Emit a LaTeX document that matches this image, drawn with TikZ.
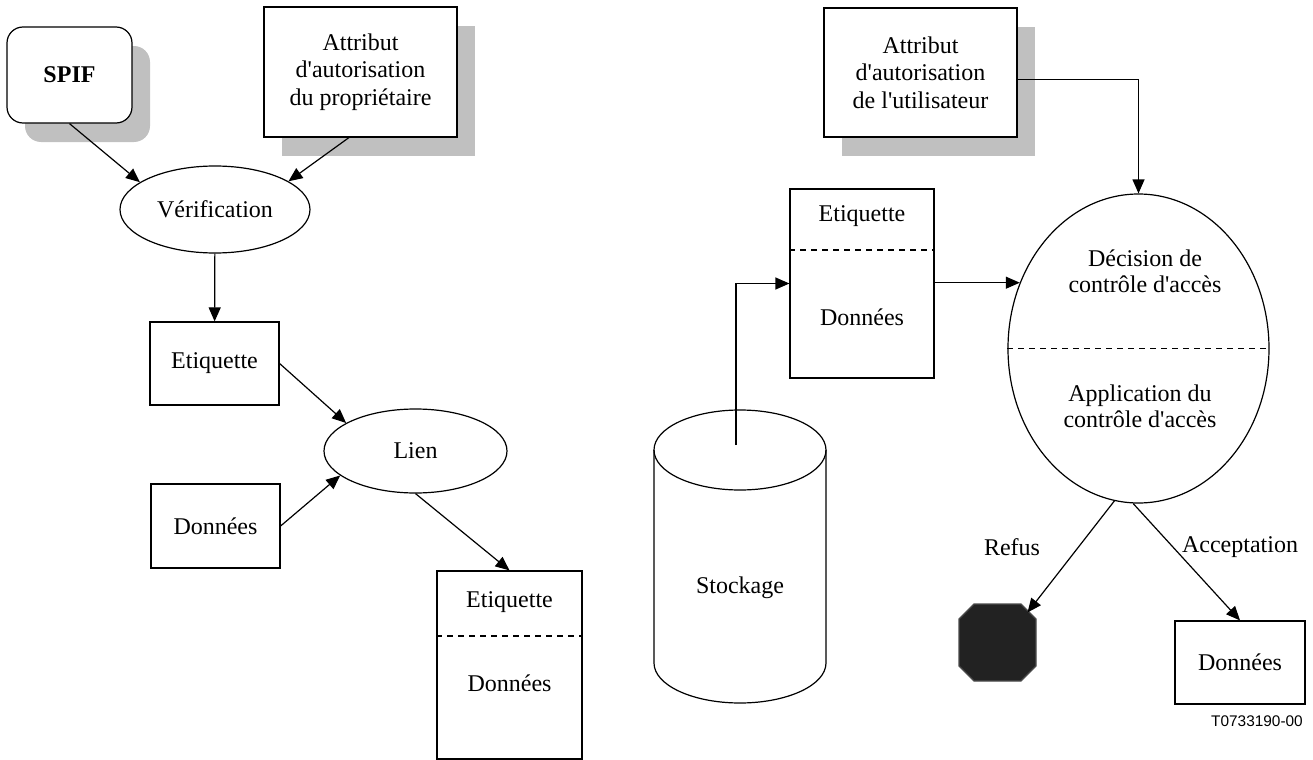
\documentclass[tikz,border=0pt]{standalone}
\usepackage{fontspec}
\setmainfont{Liberation Serif}
\newfontfamily\codefont{Liberation Sans}
\usetikzlibrary{arrows.meta}
\usetikzlibrary{positioning}
\usetikzlibrary{calc}
\usetikzlibrary{shapes.geometric}
\usetikzlibrary{shadows}
\definecolor{shadowgray}{RGB}{192, 192, 192}
\definecolor{refusfill}{RGB}{34, 34, 34}
\newcommand{\apos}{\textquotesingle}

\tikzset{
  trait/.style={line width=0.6pt},
  boite/.style={draw, trait, fill=white, inner sep=0pt, align=center, font=\fontsize{12}{13.8}\selectfont},
  ombre/.style={drop shadow={shadow xshift=9pt, shadow yshift=-9.5pt, fill=shadowgray, opacity=1}},
  bulle/.style={boite, ellipse},
  texte/.style={inner sep=0pt, align=center, font=\fontsize{12}{13.2}\selectfont},
  tirets/.style={trait, dash pattern=on 3pt off 2.5pt},
  fleche/.style={trait, -{Triangle[length=7pt, width=6pt]}},
}

\begin{document}
\begin{tikzpicture}[x=0.5pt, y=-0.5pt]
\useasboundingbox (0,0) rectangle (1313,760);

% etiquetage
\node[boite, ombre, rounded corners=8pt, minimum width=62.5pt, minimum height=48pt,
      font=\bfseries\fontsize{12}{13.8}\selectfont] (spif) at (69.5,75) {SPIF};
\node[boite, ombre, minimum width=96.5pt, minimum height=65pt] (proprio) at (360.5,72)
      {Attribut\\d\apos autorisation\\du propriétaire};
\node[bulle, minimum width=95pt, minimum height=43.5pt] (verif) at (215,209.5) {Vérification};
\node[boite, minimum width=64.5pt, minimum height=41.5pt] (etiqL) at (214.5,363.5) {Etiquette};
\node[boite, minimum width=64.5pt, minimum height=42pt] (donL) at (215.5,526) {Données};
\node[bulle, minimum width=91.5pt, minimum height=42pt] (lien) at (415.5,451) {Lien};
\node[boite, minimum width=72.5pt, minimum height=94pt] (lienOut) at (509.5,665) {};
\node[texte] (lienOutE) at (509.5,602) {Etiquette};
\node[texte] (lienOutD) at (509.5,683) {Données};
\draw[tirets] (lienOut.west |- 0,636) -- (lienOut.east |- 0,636);

\draw[fleche] (spif.south) -- (verif.160);
\draw[fleche] (proprio.260) -- (verif.21);
\draw[fleche] (verif) -- (etiqL);
\draw[fleche] (etiqL.east) -- (lien.158);
\draw[fleche] (donL.east) -- (lien.198);
\draw[fleche] (lien.south) -- (lienOut.north);

% controle d'acces
\node[boite, ombre, minimum width=96.5pt, minimum height=64.5pt] (user) at (920.5,72.5)
      {Attribut\\d\apos autorisation\\de l\apos utilisateur};
\node[boite, minimum width=72pt, minimum height=94.5pt] (etiqR) at (862,283.5) {};
\node[texte] (etiqRE) at (862,216) {Etiquette};
\node[texte] (etiqRD) at (862,317) {Données};
\draw[tirets] (etiqR.west |- 0,250) -- (etiqR.east |- 0,250);

\draw[trait] (740,450) ellipse [x radius=43pt, y radius=20pt];
\draw[trait] (654,450) -- (654,663) arc[start angle=180, end angle=360, x radius=43pt, y radius=20pt] -- (826,450);
\node[texte] (stock) at (740,588) {Stockage};
\coordinate (stockHaut) at (736,445);

\node[bulle, minimum width=130.5pt, minimum height=154.5pt] (acces) at (1138.5,348.5) {};
\node[texte] (decision) at (1145,271) {Décision de\\contrôle d\apos accès};
\node[texte] (application) at (1140,406) {Application du\\contrôle d\apos accès};
\draw[tirets] (acces.west) -- (acces.east);

% octogone de refus
\coordinate (refus) at (997.5,642.5);
\coordinate (refusCoin) at ($(refus)+(30,-30)$);
\filldraw[trait, draw=black!70, fill=refusfill]
  ($(refus)+(-23.5,-38.5)$) -- ($(refus)+(23.5,-38.5)$) -- ($(refus)+(38.5,-23.5)$)
  -- ($(refus)+(38.5,23.5)$) -- ($(refus)+(23.5,38.5)$) -- ($(refus)+(-23.5,38.5)$)
  -- ($(refus)+(-38.5,23.5)$) -- ($(refus)+(-38.5,-23.5)$) -- cycle;
\node[boite, minimum width=65pt, minimum height=41.5pt] (donR) at (1240,662.5) {Données};
\node[texte] (refusTxt) at (1012,547) {Refus};
\node[texte] (acceptTxt) at (1240,547) {Acceptation};
\node[inner sep=0pt, font=\codefont\fontsize{7.7}{9}\selectfont] (ref) at (1257,721) {T0733190-00};

\draw[fleche] (stockHaut) |- (etiqR.west);
\draw[fleche] (acces.151 -| etiqR.east) -- (acces.151);
\draw[fleche] ([yshift=-3.5pt]user.east) -| (acces.north);
\draw[fleche] (acces.261) -- (refusCoin);
\draw[fleche] (acces.268) -- (donR.north);
\end{tikzpicture}
\end{document}
